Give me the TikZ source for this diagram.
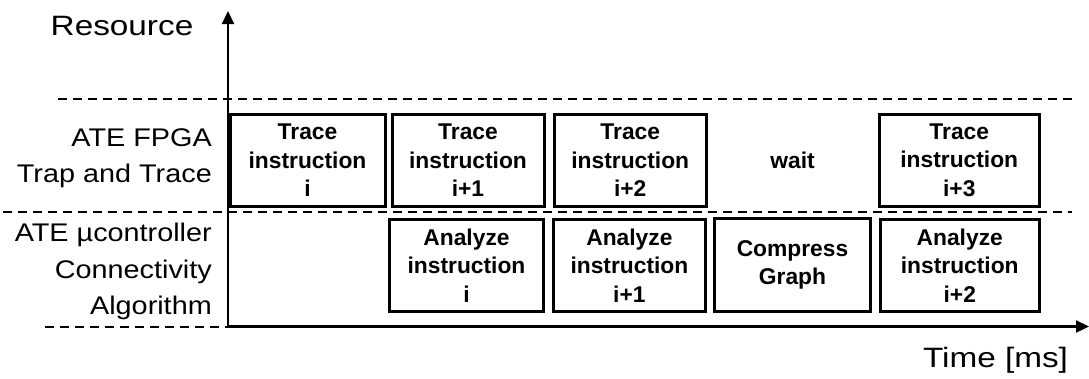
\documentclass[tikz,border=0pt]{standalone}
\usepackage{fontspec}
\setmainfont{Liberation Sans}
\newfontfamily\lanefont[FakeStretch=1.13]{Liberation Sans}
\newfontfamily\axisfont[FakeStretch=1.19]{Liberation Sans}
\usetikzlibrary{arrows.meta}

\begin{document}
\begin{tikzpicture}[x=1pt,y=-1pt,
  slot/.style={draw, line width=3pt, rectangle, inner sep=0pt, align=center,
    font=\bfseries\fontsize{22.8}{28.7}\selectfont},
  idle/.style={inner sep=0pt, align=center, font=\bfseries\fontsize{22.8}{28.7}\selectfont},
  axisline/.style={line width=2.2pt, -{Triangle[width=12pt,length=13pt]}},
  lane/.style={line width=2pt, dash pattern=on 9pt off 6pt},
  lanelabel/.style={inner sep=0pt, align=right, anchor=east,
    font=\lanefont\fontsize{25.5}{36.6}\selectfont},
  axislabel/.style={inner sep=0pt, anchor=base, font=\axisfont\fontsize{28}{34}\selectfont},
]
\useasboundingbox[fill=white] (0,0) rectangle (1089,378);

% lane separators
\coordinate (s1a) at (58,99);   \coordinate (s1b) at (1077,99);
\coordinate (s2a) at (3,212.3); \coordinate (s2b) at (1072,212.3);
\coordinate (s3a) at (45,326.5); \coordinate (O) at (228,326.5);
\draw[lane] (s1a) -- (s1b);
\draw[lane] (s2a) -- (s2b);
\draw[lane] (s3a) -- (O);

% axes
\coordinate (ytop) at (228,11);
\coordinate (xend) at (1089,326.5);
\draw[axisline] (O) -- (ytop);
\draw[axisline] (O) -- (xend);

\node[axislabel] (res) at (122,35) {Resource};
\node[axislabel] (time) at (995.5,367) {Time [ms]};

% resource lanes
\node[lanelabel] (fpga) at (212,158.4) {ATE FPGA\\Trap and Trace};
\node[lanelabel] (mcu) at (212,271.6) {ATE µcontroller\\Connectivity\\Algorithm};

% FPGA lane
\node[slot, minimum width=155pt, minimum height=91.5pt] (t1) at (307.5,160.25) {Trace\\instruction\\i};
\node[slot, minimum width=152pt, minimum height=91.5pt] (t2) at (468,160.25) {Trace\\instruction\\i+1};
\node[slot, minimum width=151.5pt, minimum height=91.5pt] (t3) at (630.25,160.25) {Trace\\instruction\\i+2};
\node[idle] (w) at (792.5,160.25) {wait};
\node[slot, minimum width=160.5pt, minimum height=91.5pt] (t4) at (959.25,160.25) {Trace\\instruction\\i+3};

% microcontroller lane
\node[slot, minimum width=154pt, minimum height=92pt] (a1) at (466.5,265.5) {Analyze\\instruction\\i};
\node[slot, minimum width=152pt, minimum height=92pt] (a2) at (629.4,265.5) {Analyze\\instruction\\i+1};
\node[slot, minimum width=156pt, minimum height=92.6pt] (cg) at (792.5,265) {Compress\\Graph};
\node[slot, minimum width=159.5pt, minimum height=92pt] (a3) at (959.75,265.5) {Analyze\\instruction\\i+2};
\end{tikzpicture}
\end{document}
